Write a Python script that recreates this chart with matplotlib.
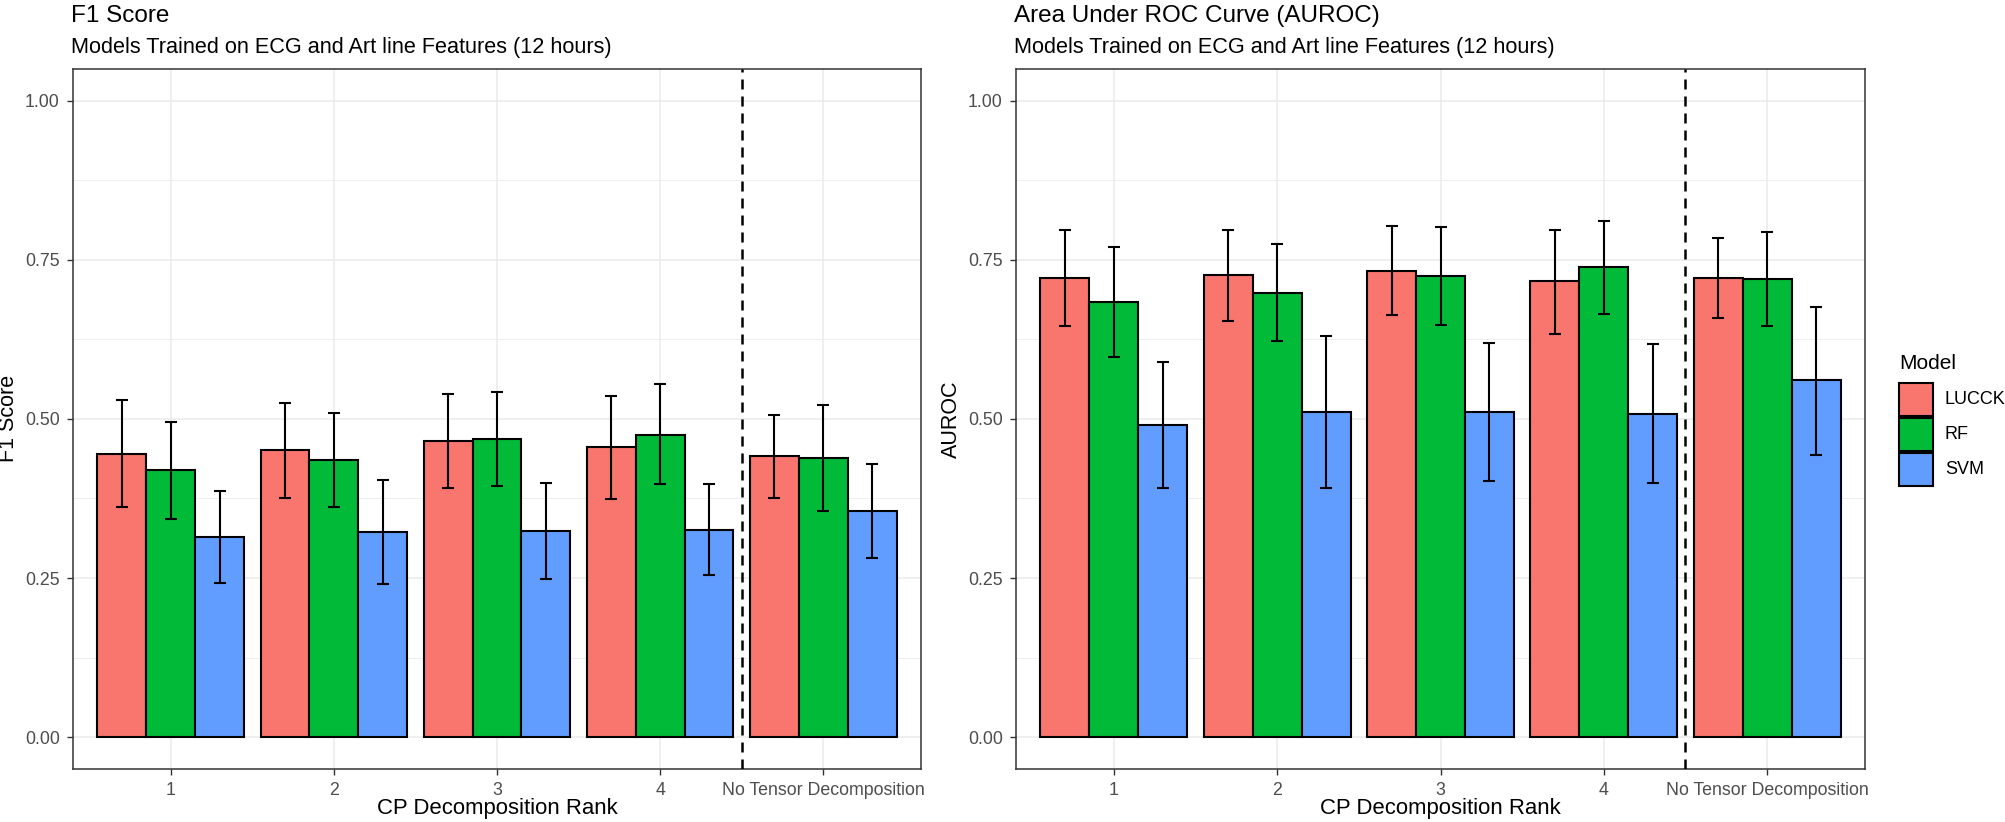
import matplotlib
matplotlib.use("Agg")
import matplotlib.pyplot as plt
from matplotlib.patches import Rectangle
from matplotlib.ticker import MultipleLocator
import numpy as np

plt.rcParams["font.family"] = ["Liberation Sans", "DejaVu Sans"]

# ---- data ----
groups = ["1", "2", "3", "4", "No Tensor Decomposition"]
models = ["LUCCK", "RF", "SVM"]
model_colors = ["#F8766D", "#00BA38", "#619CFF"]

# F1 score
f1_lucck = [0.445, 0.451, 0.465, 0.455, 0.442]
f1_lucck_lo = [0.362, 0.376, 0.392, 0.374, 0.376]
f1_lucck_hi = [0.529, 0.525, 0.539, 0.536, 0.506]
f1_rf = [0.419, 0.435, 0.469, 0.475, 0.438]
f1_rf_lo = [0.343, 0.361, 0.394, 0.397, 0.355]
f1_rf_hi = [0.495, 0.509, 0.542, 0.555, 0.521]
f1_svm = [0.315, 0.323, 0.324, 0.325, 0.355]
f1_svm_lo = [0.242, 0.241, 0.248, 0.254, 0.281]
f1_svm_hi = [0.387, 0.404, 0.400, 0.398, 0.429]

# AUROC
auc_lucck = [0.721, 0.726, 0.733, 0.716, 0.721]
auc_lucck_lo = [0.646, 0.654, 0.663, 0.634, 0.659]
auc_lucck_hi = [0.796, 0.797, 0.803, 0.796, 0.784]
auc_rf = [0.684, 0.697, 0.724, 0.738, 0.719]
auc_rf_lo = [0.597, 0.622, 0.648, 0.665, 0.646]
auc_rf_hi = [0.770, 0.774, 0.801, 0.811, 0.793]
auc_svm = [0.490, 0.511, 0.511, 0.508, 0.561]
auc_svm_lo = [0.391, 0.392, 0.402, 0.400, 0.444]
auc_svm_hi = [0.590, 0.630, 0.619, 0.617, 0.676]

yticks = [0.0, 0.25, 0.5, 0.75, 1.0]
subtitle = "Models Trained on ECG and Art line Features (12 hours)"

W, H = 2006, 822
fig = plt.figure(figsize=(W / 100, H / 100), dpi=100)


def px_rect(x0, y0, x1, y1):
    # pixel box (top-left origin) -> figure fraction rect
    return [x0 / W, 1 - y1 / H, (x1 - x0) / W, (y1 - y0) / H]


def draw_panel(ax, means, lows, highs, title, ylabel):
    x = np.arange(1, len(groups) + 1)
    bw = 0.3
    for i, (m, lo, hi) in enumerate(zip(means, lows, highs)):
        xi = x + (i - 1) * bw
        m = np.array(m)
        ax.bar(xi, m, width=bw, color=model_colors[i], edgecolor="black",
               linewidth=1.5, zorder=2)
        ax.errorbar(xi, m, yerr=[m - np.array(lo), np.array(hi) - m], fmt="none",
                    ecolor="black", elinewidth=1.5, capsize=4, capthick=1.5, zorder=3)

    # separator between the CP ranks and the baseline
    ax.axvline(4.5, color="black", linewidth=1.8, dashes=(4, 2.8), zorder=4)

    ax.set_xlim(0.4, len(groups) + 0.6)
    ax.set_ylim(-0.05, 1.05)
    ax.set_xticks(x)
    ax.set_xticklabels(groups)
    ax.set_yticks(yticks)
    ax.set_yticklabels([f"{t:.2f}" for t in yticks])
    ax.yaxis.set_minor_locator(MultipleLocator(0.125))

    ax.set_axisbelow(True)
    ax.grid(which="major", color="#EBEBEB", linewidth=1.1, zorder=0)
    ax.grid(which="minor", axis="y", color="#EBEBEB", linewidth=0.6, zorder=0)
    ax.tick_params(which="major", length=4, width=1.0, color="#333333",
                   labelcolor="#4D4D4D", labelsize=12.8, pad=5.5)
    ax.tick_params(which="minor", length=0)
    for s in ax.spines.values():
        s.set_color("#333333")
        s.set_linewidth(1.1)

    ax.set_xlabel("CP Decomposition Rank", fontsize=15.9, color="black")
    ax.xaxis.set_label_coords(0.5, -0.041)
    ax.set_ylabel(ylabel, fontsize=15.5, color="black")
    ax.yaxis.set_label_coords(-0.064, 0.5)

    x0 = ax.get_position().x0 - 0.001
    fig.text(x0, 1 - 22 / H, title, fontsize=17.5, ha="left", va="baseline")
    fig.text(x0, 1 - 53 / H, subtitle, fontsize=15.6, ha="left", va="baseline")


ax1 = fig.add_axes(px_rect(73, 68.7, 921, 769))
ax2 = fig.add_axes(px_rect(1016, 68.7, 1865, 769))

draw_panel(ax1,
           [f1_lucck, f1_rf, f1_svm],
           [f1_lucck_lo, f1_rf_lo, f1_svm_lo],
           [f1_lucck_hi, f1_rf_hi, f1_svm_hi],
           "F1 Score", "F1 Score")
draw_panel(ax2,
           [auc_lucck, auc_rf, auc_svm],
           [auc_lucck_lo, auc_rf_lo, auc_svm_lo],
           [auc_lucck_hi, auc_rf_hi, auc_svm_hi],
           "Area Under ROC Curve (AUROC)", "AUROC")

# legend drawn by hand so the key boxes match the ggplot layout
fig.text(1899 / W, 1 - 369 / H, "Model", fontsize=15, ha="left", va="baseline")
for i, (m, c) in enumerate(zip(models, model_colors)):
    top = 383 + i * 35
    fig.patches.append(Rectangle((1899 / W, 1 - (top + 33) / H), 34 / W, 33 / H,
                                 transform=fig.transFigure, facecolor=c,
                                 edgecolor="black", linewidth=1.5))
    fig.text(1945 / W, 1 - (top + 16.5) / H, m, fontsize=13, ha="left", va="center")

fig.savefig("out.png", dpi=100)
